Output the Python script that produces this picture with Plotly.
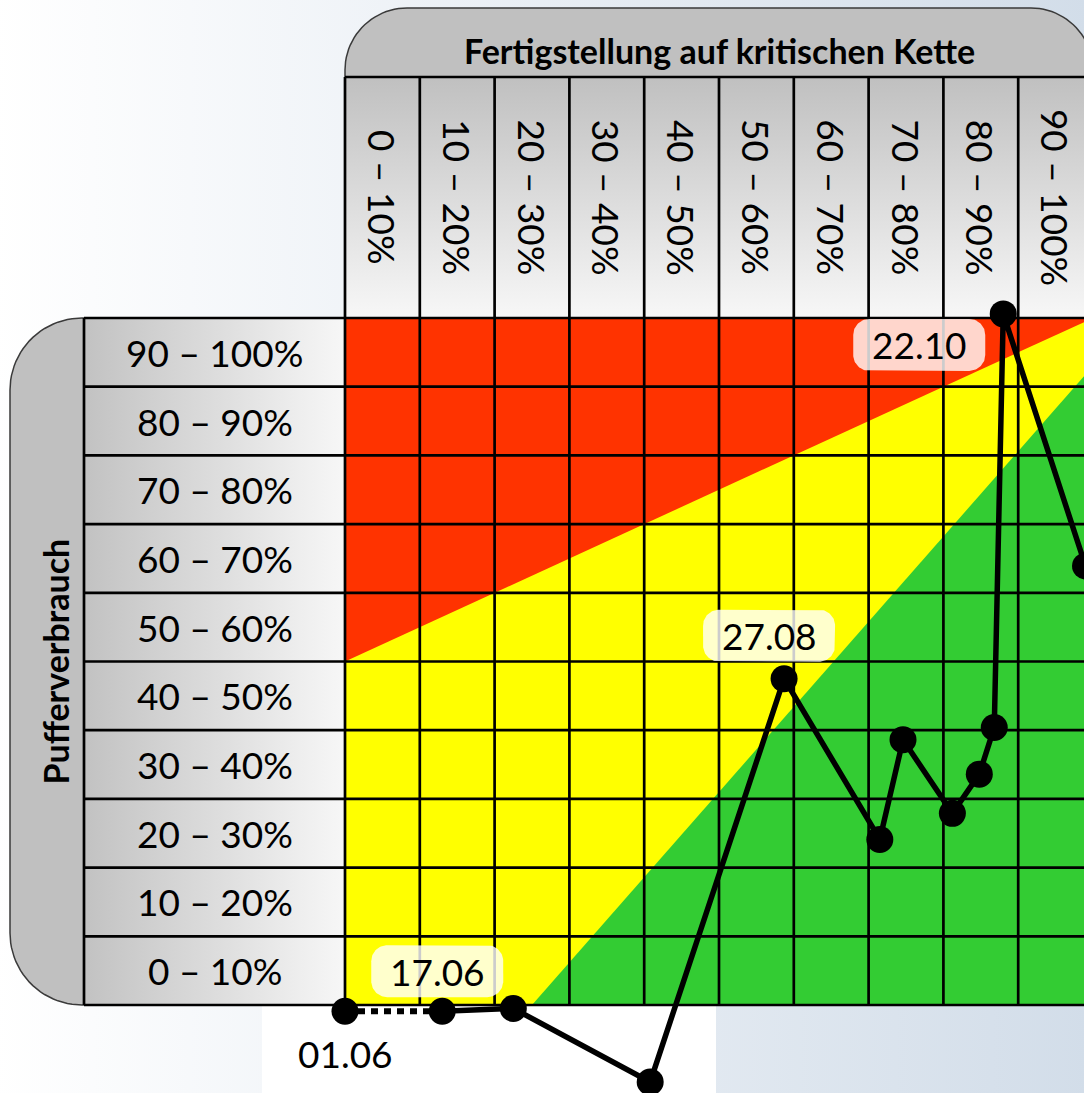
import numpy as np
import plotly.graph_objects as go

# ------------------------------------------------------------------ data
col_labels = ["0 – 10%", "10 – 20%", "20 – 30%", "30 – 40%", "40 – 50%",
              "50 – 60%", "60 – 70%", "70 – 80%", "80 – 90%", "90 – 100%"]
row_labels = ["0 – 10%", "10 – 20%", "20 – 30%", "30 – 40%", "40 – 50%",
              "50 – 60%", "60 – 70%", "70 – 80%", "80 – 90%", "90 – 100%"]
bin_edges = [0, 10, 20, 30, 40, 50, 60, 70, 80, 90, 100]
x_title = "Fertigstellung auf kritischen Kette"
y_title = "Pufferverbrauch"

# completion of critical chain (%) / buffer consumption (%)
completion = [0.0, 13.0, 22.5, 40.8, 58.7, 71.5, 74.6, 81.2, 84.8, 86.8, 88.0, 99.0]
consumption = [-0.9, -0.9, -0.5, -11.2, 47.5, 24.1, 38.6, 27.9, 33.6, 40.4, 100.6, 63.9]
dates = ["01.06", "17.06", "", "", "27.08", "", "", "", "", "", "22.10", ""]

# zone boundaries (%)
red_zone_x = [0, 100, 0]
red_zone_y = [50, 100, 100]
green_zone_x = [25, 100, 100]
green_zone_y = [0, 93, 0]

# ------------------------------------------------------------------ geometry helpers
W, H = 1084, 1093
GX0, GY0 = 345, 1005      # pixel position of (0 %, 0 %)
SX, SY = 7.48, 6.87       # pixels per percent

def dx(px):
    return (px - GX0) / SX

def dy(py):
    return (GY0 - py) / SY

def rrect(x0, y0, x1, y1, r, tl=False, tr=False, br=False, bl=False, n=24):
    pts = []
    def arc(cx, cy, a0, a1):
        for t in np.linspace(a0, a1, n):
            pts.append((cx + r * np.cos(t), cy + r * np.sin(t)))
    if tl:
        arc(x0 + r, y0 + r, np.pi, 1.5 * np.pi)
    else:
        pts.append((x0, y0))
    if tr:
        arc(x1 - r, y0 + r, 1.5 * np.pi, 2 * np.pi)
    else:
        pts.append((x1, y0))
    if br:
        arc(x1 - r, y1 - r, 0, 0.5 * np.pi)
    else:
        pts.append((x1, y1))
    if bl:
        arc(x0 + r, y1 - r, 0.5 * np.pi, np.pi)
    else:
        pts.append((x0, y1))
    pts.append(pts[0])
    xs = [dx(p[0]) for p in pts]
    ys = [dy(p[1]) for p in pts]
    return xs, ys

fig = go.Figure()

def poly(xs, ys, fill=None, grad=None, line_color=None, line_width=0):
    kw = dict(x=xs, y=ys, mode="lines", fill="toself", hoverinfo="skip",
              showlegend=False,
              line=dict(color=line_color or "rgba(0,0,0,0)", width=line_width))
    if grad is not None:
        kw["fillgradient"] = grad
        kw["fillcolor"] = None
    else:
        kw["fillcolor"] = fill
    fig.add_trace(go.Scatter(**kw))

# background
bx, by = rrect(-5, -5, W + 5, H + 5, 0)
poly(bx, by, grad=dict(type="horizontal", colorscale=[[0, "#ffffff"], [1, "#d2dde9"]]))
wx, wy = rrect(262, 1005, 716, H + 5, 0)
poly(wx, wy, fill="#ffffff")

# header (top)
HDR_TOP, HDR_MID = 8, 77
GRID_R = GX0 + SX * 100
hx, hy = rrect(GX0, HDR_TOP, GRID_R, GY0 - SY * 100, 62, tl=True, tr=True)
poly(hx, hy, fill="#c0c0c0", line_color="#3a3a3a", line_width=1.5)
cx_, cy_ = rrect(GX0, HDR_MID, GRID_R, GY0 - SY * 100, 0)
poly(cx_, cy_, grad=dict(type="vertical", colorscale=[[0, "#f7f7f7"], [1, "#c0c0c0"]]))

# header (left)
LP_X0, RH_X0 = 10, 84
lx, ly = rrect(LP_X0, GY0 - SY * 100, GX0, GY0, 72, tl=True, bl=True)
poly(lx, ly, fill="#c0c0c0", line_color="#3a3a3a", line_width=1.5)
rx_, ry_ = rrect(RH_X0, GY0 - SY * 100, GX0, GY0, 0)
poly(rx_, ry_, grad=dict(type="horizontal", colorscale=[[0, "#c2c2c2"], [1, "#f7f7f7"]]))

# zones
poly([0, 100, 100, 0, 0], [0, 0, 100, 100, 0], fill="#ffff00")
poly(red_zone_x + [red_zone_x[0]], red_zone_y + [red_zone_y[0]], fill="#ff3300")
poly(green_zone_x + [green_zone_x[0]], green_zone_y + [green_zone_y[0]], fill="#33cc33")

# grid lines
gx, gy = [], []
for e in bin_edges:
    gx += [e, e, None]
    gy += [0, dy(HDR_MID), None]
for e in bin_edges:
    gx += [dx(RH_X0), 100, None]
    gy += [e, e, None]
gx += [dx(RH_X0), dx(RH_X0), None, 0, 100, None]
gy += [0, 100, None, dy(HDR_MID), dy(HDR_MID), None]
fig.add_trace(go.Scatter(x=gx, y=gy, mode="lines", hoverinfo="skip", showlegend=False,
                         line=dict(color="#000000", width=2.7)))

# label boxes (rounded, semi transparent)
label_offsets = {0: (0, 42, False), 1: (-5, -40, True), 4: (-15, -43, True), 10: (-84, 31, True)}
BOX_W, BOX_H = 132, 52
for i, d in enumerate(dates):
    if not d:
        continue
    ox, oy, boxed = label_offsets[i]
    pcx = GX0 + completion[i] * SX + ox
    pcy = GY0 - consumption[i] * SY + oy
    if boxed:
        bxs, bys = rrect(pcx - BOX_W / 2, pcy - BOX_H / 2, pcx + BOX_W / 2, pcy + BOX_H / 2, 16,
                         tl=True, tr=True, br=True, bl=True)
        poly(bxs, bys, fill="rgba(255,255,255,0.8)")

# track line
fig.add_trace(go.Scatter(x=completion[:2], y=consumption[:2], mode="lines", hoverinfo="skip",
                         showlegend=False, line=dict(color="#000000", width=6, dash="7px,6px")))
fig.add_trace(go.Scatter(x=completion[1:], y=consumption[1:], mode="lines", hoverinfo="skip",
                         showlegend=False, line=dict(color="#000000", width=5.5)))
fig.add_trace(go.Scatter(x=completion, y=consumption, mode="markers", hoverinfo="skip",
                         showlegend=False, marker=dict(color="#000000", size=27, line=dict(width=0))))

# ------------------------------------------------------------------ texts
FONT = "Lato, 'Open Sans', sans-serif"
ann = []
ann.append(dict(x=dx((GX0 + GRID_R) / 2), y=dy(50), text=f"<b>{x_title}</b>", showarrow=False,
                font=dict(family=FONT, size=34, color="#000000"), xanchor="center", yanchor="middle"))
ann.append(dict(x=dx(55), y=50, text=f"<b>{y_title}</b>", showarrow=False, textangle=-90,
                font=dict(family=FONT, size=34, color="#000000"), xanchor="center", yanchor="middle"))
for j, lab in enumerate(col_labels):
    ann.append(dict(x=(bin_edges[j] + bin_edges[j + 1]) / 2, y=dy((HDR_MID + GY0 - SY * 100) / 2),
                    text=lab, showarrow=False, textangle=90,
                    font=dict(family=FONT, size=37, color="#000000"), xanchor="center", yanchor="middle"))
for j, lab in enumerate(row_labels):
    ann.append(dict(x=dx((RH_X0 + GX0) / 2), y=(bin_edges[j] + bin_edges[j + 1]) / 2,
                    text=lab, showarrow=False,
                    font=dict(family=FONT, size=37, color="#000000"), xanchor="center", yanchor="middle"))
for i, d in enumerate(dates):
    if not d:
        continue
    ox, oy, boxed = label_offsets[i]
    ann.append(dict(x=completion[i], y=consumption[i], xshift=ox, yshift=-oy, text=d, showarrow=False,
                    font=dict(family=FONT, size=37, color="#000000"), xanchor="center", yanchor="middle"))

fig.update_layout(
    width=W, height=H, margin=dict(l=0, r=0, t=0, b=0),
    paper_bgcolor="#ffffff", plot_bgcolor="rgba(0,0,0,0)",
    xaxis=dict(range=[dx(0), dx(W)], visible=False, showgrid=False, zeroline=False, fixedrange=True),
    yaxis=dict(range=[dy(H), dy(0)], visible=False, showgrid=False, zeroline=False, fixedrange=True),
    annotations=ann, showlegend=False, hovermode=False,
)
fig.write_html("out.html", config={"displayModeBar": False},
               post_script="document.body.style.margin='0';document.body.style.overflow='hidden';")
